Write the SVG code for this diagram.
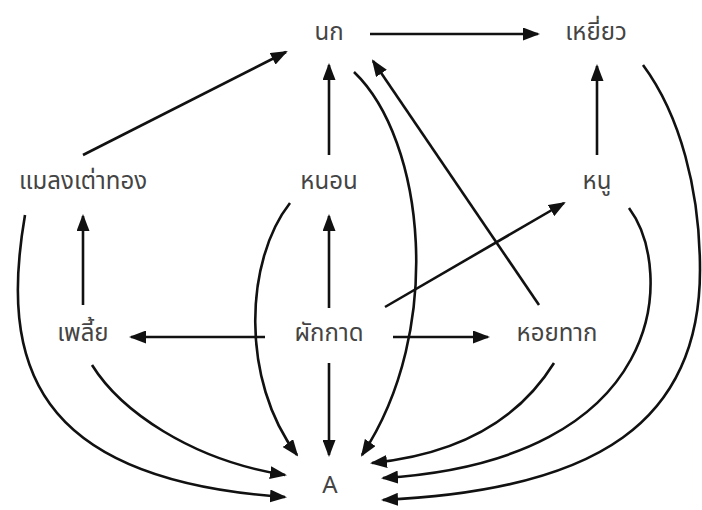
<svg xmlns="http://www.w3.org/2000/svg" width="702" height="510" viewBox="0 0 702 510">
<style>
.lbl{font-family:"Noto Sans Thai","Noto Sans","DejaVu Sans",sans-serif;font-size:24px;fill:#444;text-anchor:middle}
.c{fill:none;stroke:#111;stroke-width:2.6;marker-end:url(#ah)}
</style>
<defs>
<marker id="ah" markerUnits="userSpaceOnUse" markerWidth="17" markerHeight="13" refX="15" refY="6.5" orient="auto">
<path d="M0,0 L17,6.5 L0,13 Z" fill="#111"/>
</marker>
</defs>
<rect width="702" height="510" fill="#fff"/>
<g id="connectors">
<path class="c" d="M370,34 L538,34"/>
<path class="c" d="M83,155 L286,52"/>
<path class="c" d="M329,155 L329,65"/>
<path class="c" d="M83,305 L83,216"/>
<path class="c" d="M329,308 L329,216"/>
<path class="c" d="M265,337 L131,337"/>
<path class="c" d="M393,337 L488,337"/>
<path class="c" d="M329,363 L329,455"/>
<path class="c" d="M385,307 L564,203"/>
<path class="c" d="M539,305 L373,61"/>
<path class="c" d="M597,155 L597,66"/>
<path class="c" d="M25,215 C0,360 30,480 285,497"/>
<path class="c" d="M92,365 C120,410 190,460 285,475"/>
<path class="c" d="M290,203 C245,260 240,380 297,455"/>
<path class="c" d="M354,72 C425,140 445,330 362,455"/>
<path class="c" d="M554,363 Q500,450 372,463"/>
<path class="c" d="M629,208 C675,270 670,460 383,478"/>
<path class="c" d="M643,65 C680,115 700,190 700,270 C700,420 600,490 383,500"/>
</g>
<g id="nok"><text class="lbl" x="329" y="40">นก</text></g>
<g id="yiao"><text class="lbl" x="596" y="40">เหยี่ยว</text></g>
<g id="malaeng"><text class="lbl" x="83" y="189">แมลงเต่าทอง</text></g>
<g id="nonon"><text class="lbl" x="329" y="189">หนอน</text></g>
<g id="nu"><text class="lbl" x="597" y="189">หนู</text></g>
<g id="plia"><text class="lbl" x="83" y="341">เพลี้ย</text></g>
<g id="phakkat"><text class="lbl" x="329" y="341">ผักกาด</text></g>
<g id="hoithak"><text class="lbl" x="557" y="341">หอยทาก</text></g>
<g id="A"><text class="lbl" x="330" y="493">A</text></g>
</svg>
